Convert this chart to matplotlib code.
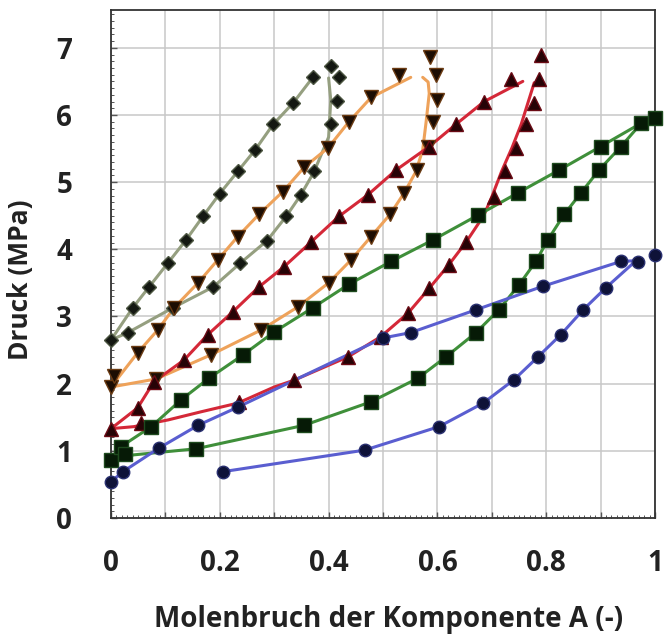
import matplotlib
matplotlib.use("Agg")
import matplotlib.pyplot as plt
from matplotlib.ticker import MultipleLocator, FixedLocator, FixedFormatter

# ---------------------------------------------------------------------------
# Data
# ---------------------------------------------------------------------------
# olive isotherm (diamonds)
olive_bub_x = [0.0, 0.04, 0.07, 0.105, 0.138, 0.169, 0.200, 0.233, 0.265, 0.298, 0.335, 0.371]
olive_bub_y = [2.65, 3.13, 3.44, 3.80, 4.14, 4.49, 4.83, 5.16, 5.48, 5.86, 6.18, 6.56]
olive_dew_x = [0.031, 0.114, 0.188, 0.237, 0.287, 0.322, 0.349, 0.373, 0.404, 0.415, 0.419, 0.404]
olive_dew_y = [2.76, 3.13, 3.44, 3.79, 4.13, 4.49, 4.81, 5.16, 5.86, 6.21, 6.57, 6.73]
olive_bub_line_x = olive_bub_x
olive_bub_line_y = olive_bub_y
olive_dew_line_x = [0.0, 0.031, 0.114, 0.188, 0.237, 0.287, 0.322, 0.349, 0.373, 0.400, 0.404, 0.400]
olive_dew_line_y = [2.65, 2.76, 3.13, 3.44, 3.79, 4.13, 4.49, 4.81, 5.15, 5.67, 6.22, 6.55]

# orange isotherm (down triangles)
orange_bub_x = [0.0, 0.006, 0.049, 0.086, 0.116, 0.160, 0.196, 0.233, 0.272, 0.316, 0.355, 0.399, 0.4375, 0.478, 0.530]
orange_bub_y = [1.95, 2.12, 2.46, 2.80, 3.13, 3.50, 3.84, 4.19, 4.52, 4.86, 5.22, 5.51, 5.90, 6.26, 6.60]
orange_dew_x = [0.083, 0.184, 0.276, 0.343, 0.400, 0.441, 0.478, 0.513, 0.539, 0.562, 0.583, 0.592, 0.600, 0.597, 0.586]
orange_dew_y = [2.07, 2.43, 2.80, 3.14, 3.50, 3.84, 4.19, 4.52, 4.84, 5.18, 5.53, 5.90, 6.23, 6.60, 6.87]
orange_bub_line_x = [0.0, 0.049, 0.086, 0.116, 0.160, 0.196, 0.233, 0.272, 0.316, 0.355, 0.399, 0.4375, 0.478, 0.551]
orange_bub_line_y = [1.95, 2.46, 2.80, 3.13, 3.50, 3.84, 4.19, 4.52, 4.86, 5.22, 5.51, 5.90, 6.26, 6.56]
orange_dew_line_x = [0.0, 0.083, 0.184, 0.276, 0.343, 0.400, 0.441, 0.478, 0.513, 0.539, 0.560, 0.573, 0.579, 0.585, 0.583, 0.573]
orange_dew_line_y = [1.95, 2.07, 2.43, 2.80, 3.14, 3.50, 3.84, 4.19, 4.52, 4.84, 5.15, 5.48, 5.88, 6.32, 6.49, 6.56]

# red isotherm (up triangles)
red_bub_x = [0.0, 0.049, 0.079, 0.134, 0.178, 0.224, 0.272, 0.318, 0.368, 0.419, 0.472, 0.524, 0.585, 0.634, 0.686, 0.735]
red_bub_y = [1.33, 1.64, 2.03, 2.35, 2.73, 3.07, 3.44, 3.74, 4.11, 4.49, 4.81, 5.18, 5.53, 5.86, 6.20, 6.53]
red_dew_x = [0.055, 0.236, 0.336, 0.436, 0.496, 0.546, 0.585, 0.621, 0.653, 0.704, 0.724, 0.744, 0.763, 0.778, 0.787, 0.790]
red_dew_y = [1.41, 1.72, 2.05, 2.40, 2.70, 3.05, 3.42, 3.77, 4.11, 4.78, 5.16, 5.51, 5.86, 6.18, 6.54, 6.90]
red_bub_line_x = [0.0, 0.049, 0.079, 0.134, 0.178, 0.224, 0.272, 0.318, 0.368, 0.419, 0.472, 0.524, 0.585, 0.634, 0.686, 0.757]
red_bub_line_y = [1.33, 1.64, 2.03, 2.35, 2.73, 3.07, 3.44, 3.74, 4.11, 4.49, 4.81, 5.18, 5.53, 5.86, 6.20, 6.50]
red_dew_line_x = [0.0, 0.042, 0.105, 0.165, 0.233, 0.300, 0.336, 0.436, 0.496, 0.546, 0.585, 0.621, 0.653, 0.685, 0.700, 0.718, 0.737, 0.754, 0.778]
red_dew_line_y = [1.33, 1.36, 1.46, 1.58, 1.71, 1.95, 2.05, 2.40, 2.70, 3.05, 3.42, 3.77, 4.11, 4.50, 4.78, 5.16, 5.51, 5.86, 6.48]

# green isotherm (squares)
green_bub_x = [0.0, 0.018, 0.074, 0.129, 0.180, 0.243, 0.300, 0.371, 0.4375, 0.515, 0.592, 0.675, 0.748, 0.824, 0.900, 0.975, 1.0]
green_bub_y = [0.86, 1.06, 1.36, 1.76, 2.08, 2.43, 2.77, 3.13, 3.48, 3.82, 4.14, 4.51, 4.84, 5.18, 5.53, 5.88, 5.96]
green_dew_x = [0.025, 0.156, 0.355, 0.478, 0.564, 0.616, 0.671, 0.713, 0.750, 0.781, 0.803, 0.833, 0.864, 0.897, 0.9375]
green_dew_y = [0.95, 1.03, 1.38, 1.73, 2.08, 2.40, 2.76, 3.10, 3.47, 3.82, 4.14, 4.52, 4.84, 5.18, 5.53]
green_bub_line_x = green_bub_x[:-1]
green_bub_line_y = green_bub_y[:-1]
green_dew_line_x = [0.0, 0.042, 0.156, 0.355, 0.478, 0.564, 0.616, 0.671, 0.713, 0.750, 0.781, 0.803, 0.833, 0.864, 0.897, 0.9375, 0.975]
green_dew_line_y = [0.86, 0.94, 1.03, 1.38, 1.73, 2.08, 2.40, 2.76, 3.10, 3.47, 3.82, 4.14, 4.52, 4.84, 5.18, 5.53, 5.88]

# blue isotherm (circles)
blue_bub_x = [0.0, 0.022, 0.088, 0.160, 0.233, 0.500, 0.551, 0.671, 0.794, 0.9375, 1.0]
blue_bub_y = [0.54, 0.69, 1.04, 1.38, 1.65, 2.68, 2.76, 3.10, 3.45, 3.82, 3.92]
blue_dew_x = [0.206, 0.466, 0.603, 0.684, 0.741, 0.785, 0.827, 0.868, 0.910, 0.968]
blue_dew_y = [0.69, 1.01, 1.36, 1.71, 2.06, 2.40, 2.73, 3.10, 3.43, 3.81]
blue_bub_line_x = [0.0, 0.022, 0.088, 0.160, 0.233, 0.500, 0.551, 0.671, 0.794, 0.9375, 0.965]
blue_bub_line_y = [0.54, 0.69, 1.04, 1.38, 1.65, 2.68, 2.76, 3.10, 3.45, 3.82, 3.83]
blue_dew_line_x = [0.206, 0.466, 0.603, 0.684, 0.741, 0.785, 0.827, 0.868, 0.910, 0.965]
blue_dew_line_y = [0.69, 1.01, 1.36, 1.71, 2.06, 2.40, 2.73, 3.10, 3.43, 3.83]

x_ticks = [0.0, 0.1, 0.2, 0.3, 0.4, 0.5, 0.6, 0.7, 0.8, 0.9, 1.0]
x_tick_labels = ["0", "", "0.2", "", "0.4", "", "0.6", "", "0.8", "", "1"]
y_ticks = [0, 1, 2, 3, 4, 5, 6, 7]
y_tick_labels = ["0", "1", "2", "3", "4", "5", "6", "7"]

# ---------------------------------------------------------------------------
# Styles: (line colour, marker, marker size, marker face, marker edge)
# ---------------------------------------------------------------------------
SERIES = [
    ("#959f80", "D", 7.5, "#141812", "#4d5642",
     olive_bub_x, olive_bub_y, olive_dew_x, olive_dew_y,
     olive_bub_line_x, olive_bub_line_y, olive_dew_line_x, olive_dew_line_y),
    ("#eea25a", "v", 10, "#1c0d03", "#6a3a12",
     orange_bub_x, orange_bub_y, orange_dew_x, orange_dew_y,
     orange_bub_line_x, orange_bub_line_y, orange_dew_line_x, orange_dew_line_y),
    ("#d42838", "^", 10, "#260306", "#6a0a14",
     red_bub_x, red_bub_y, red_dew_x, red_dew_y,
     red_bub_line_x, red_bub_line_y, red_dew_line_x, red_dew_line_y),
    ("#3f8f3a", "s", 9.5, "#061a06", "#1e4a1e",
     green_bub_x, green_bub_y, green_dew_x, green_dew_y,
     green_bub_line_x, green_bub_line_y, green_dew_line_x, green_dew_line_y),
    ("#5a5ed0", "o", 9, "#0e1238", "#2a3070",
     blue_bub_x, blue_bub_y, blue_dew_x, blue_dew_y,
     blue_bub_line_x, blue_bub_line_y, blue_dew_line_x, blue_dew_line_y),
]

FONT = ["Open Sans", "DejaVu Sans"]

fig = plt.figure(figsize=(6.64, 6.34), dpi=100)
ax = fig.add_axes([111 / 664, 1 - 518 / 634, 544 / 664, 508.5 / 634])

for (lc, mk, ms, mfc, mec, bx, by, dx, dy, blx, bly, dlx, dly) in SERIES:
    ax.plot(blx, bly, color=lc, lw=2.2, zorder=3, solid_capstyle="round")
    ax.plot(dlx, dly, color=lc, lw=2.2, zorder=3, solid_capstyle="round")
    for xs, ys in ((bx, by), (dx, dy)):
        ax.plot(xs, ys, ls="none", marker=mk, ms=ms, mfc=mfc, mec=mec,
                mew=1.0, zorder=4, clip_on=False)

ax.set_xlim(0, 1)
ax.set_ylim(0, 7.57)

ax.xaxis.set_major_locator(FixedLocator(x_ticks))
ax.xaxis.set_major_formatter(FixedFormatter(x_tick_labels))
ax.xaxis.set_minor_locator(MultipleLocator(0.01))
ax.yaxis.set_major_locator(FixedLocator(y_ticks))
ax.yaxis.set_major_formatter(FixedFormatter(y_tick_labels))
ax.yaxis.set_minor_locator(MultipleLocator(0.1))

ax.grid(True, which="major", color="#c8c8c8", lw=1.1, zorder=0)
ax.set_axisbelow(True)

ax.tick_params(which="major", direction="in", length=4, width=1.0,
               color="#555555", pad=22)
ax.tick_params(which="minor", direction="in", length=2, width=0.7,
               color="#555555")
ax.tick_params(axis="y", pad=28)

for lab in ax.get_xticklabels() + ax.get_yticklabels():
    lab.set_family(FONT)
    lab.set_fontweight("bold")
    lab.set_fontsize(20)
    lab.set_color("#222222")

for sp in ax.spines.values():
    sp.set_color("#333333")
    sp.set_linewidth(1.3)

ax.set_xlabel("Molenbruch der Komponente A (-)", family=FONT, fontsize=20,
              fontweight="bold", color="#222222")
ax.set_ylabel("Druck (MPa)", family=FONT, fontsize=19,
              fontweight="bold", color="#222222")
ax.xaxis.set_label_coords(0.51, -0.172)
ax.yaxis.set_label_coords(-0.142, 0.468)

fig.savefig("out.png", dpi=100, facecolor="white")
